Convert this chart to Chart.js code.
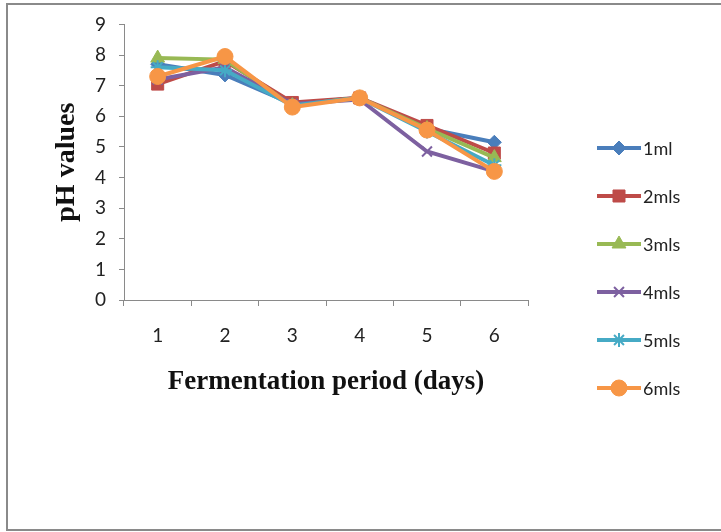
<!DOCTYPE html>
<html>
<head>
<meta charset="utf-8">
<script src="https://cdn.jsdelivr.net/npm/chart.js@4/dist/chart.umd.min.js"></script>
<style>
  html, body { margin: 0; padding: 0; background: #fff; }
  #wrap { width: 721px; height: 532px; }
</style>
</head>
<body>
<div id="wrap"><canvas id="c" width="721" height="532"></canvas></div>
<script>
const days = ['1', '2', '3', '4', '5', '6'];
const seriesNames = ['1ml', '2mls', '3mls', '4mls', '5mls', '6mls'];
const ml1 = [7.7, 7.35, 6.4, 6.6, 5.6, 5.15];
const ml2 = [7.05, 7.8, 6.45, 6.6, 5.7, 4.8];
const ml3 = [7.9, 7.85, 6.35, 6.6, 5.6, 4.65];
const ml4 = [7.2, 7.6, 6.4, 6.55, 4.85, 4.2];
const ml5 = [7.6, 7.5, 6.35, 6.6, 5.5, 4.4];
const ml6 = [7.3, 7.95, 6.3, 6.6, 5.55, 4.2];
const yTicks = [0, 1, 2, 3, 4, 5, 6, 7, 8, 9];

const colors = ['#4A7EBB', '#BE4B48', '#98B954', '#7D60A0', '#46AAC5', '#F79646'];
const pointStyles = ['rectRot', 'rect', 'triangle', 'crossRot', 'star', 'circle'];
const pointRadii = [7, 8.5, 8, 7, 7, 8];
const allValues = [ml1, ml2, ml3, ml4, ml5, ml6];

const datasets = allValues.map((vals, i) => ({
  label: seriesNames[i],
  data: vals,
  borderColor: colors[i],
  backgroundColor: colors[i],
  borderWidth: 4,
  pointStyle: pointStyles[i],
  pointRadius: pointRadii[i],
  pointBorderWidth: (pointStyles[i] === 'crossRot' || pointStyles[i] === 'star') ? 2 : 1,
  pointBorderColor: colors[i],
  pointBackgroundColor: colors[i],
  tension: 0,
  order: 6 - i
}));

const framePlugin = {
  id: 'frame',
  beforeDraw(chart) {
    const ctx = chart.ctx;
    ctx.save();
    ctx.fillStyle = '#fff';
    ctx.fillRect(0, 0, chart.width, chart.height);
    ctx.strokeStyle = '#8a8a8a';
    ctx.lineWidth = 2;
    ctx.beginPath();
    ctx.moveTo(721, 4);
    ctx.lineTo(7, 4);
    ctx.lineTo(7, 530);
    ctx.lineTo(721, 530);
    ctx.stroke();
    ctx.restore();
  }
};

const legendPlugin = {
  id: 'customLegend',
  afterDraw(chart) {
    const ctx = chart.ctx;
    const rowY = [148, 196, 244, 292, 340, 388];
    ctx.save();
    chart.data.datasets.forEach((ds, i) => {
      const y = rowY[i];
      ctx.strokeStyle = ds.borderColor;
      ctx.lineWidth = 4;
      ctx.beginPath();
      ctx.moveTo(597, y);
      ctx.lineTo(641, y);
      ctx.stroke();
      ctx.fillStyle = ds.backgroundColor;
      ctx.strokeStyle = ds.borderColor;
      ctx.lineWidth = ds.pointBorderWidth;
      Chart.helpers.drawPoint(ctx, {
        pointStyle: ds.pointStyle,
        radius: ds.pointRadius,
        rotation: 0,
        borderWidth: ds.pointBorderWidth
      }, 619, y);
      ctx.fillStyle = '#222';
      ctx.font = '18px Lato';
      ctx.textBaseline = 'middle';
      ctx.textAlign = 'left';
      ctx.fillText(ds.label, 643, y + 1);
    });
    ctx.restore();
  }
};

new Chart(document.getElementById('c'), {
  type: 'line',
  data: { labels: days, datasets: datasets },
  options: {
    responsive: false,
    animation: false,
    devicePixelRatio: 1,
    layout: { padding: { top: 19, right: 193, bottom: 0, left: 0 } },
    plugins: {
      legend: { display: false },
      tooltip: { enabled: false }
    },
    scales: {
      x: {
        offset: true,
        grid: { drawOnChartArea: false, drawTicks: true, tickLength: 6, offset: true, color: '#8a8a8a' },
        border: { color: '#8a8a8a', width: 1 },
        ticks: { color: '#222', font: { family: 'Lato', size: 19 }, padding: 18 },
        title: {
          display: true,
          text: 'Fermentation period (days)',
          color: '#111',
          font: { family: 'Liberation Serif', size: 27, weight: 'bold' },
          padding: { top: 0, bottom: 134 }
        },
        afterFit(scale) { scale.height = 232; }
      },
      y: {
        min: 0,
        max: 9,
        afterBuildTicks(scale) { scale.ticks = yTicks.map(v => ({ value: v })); },
        grid: { drawOnChartArea: false, drawTicks: true, tickLength: 5, color: '#8a8a8a' },
        border: { color: '#8a8a8a', width: 1 },
        ticks: { color: '#222', font: { family: 'Lato', size: 19 }, padding: 13 },
        title: {
          display: true,
          text: 'pH values',
          color: '#111',
          font: { family: 'Liberation Serif', size: 28, weight: 'bold' },
          padding: { top: 50, bottom: 0 }
        },
        afterFit(scale) { scale.width = 124; }
      }
    }
  },
  plugins: [framePlugin, legendPlugin]
});
</script>
</body>
</html>
